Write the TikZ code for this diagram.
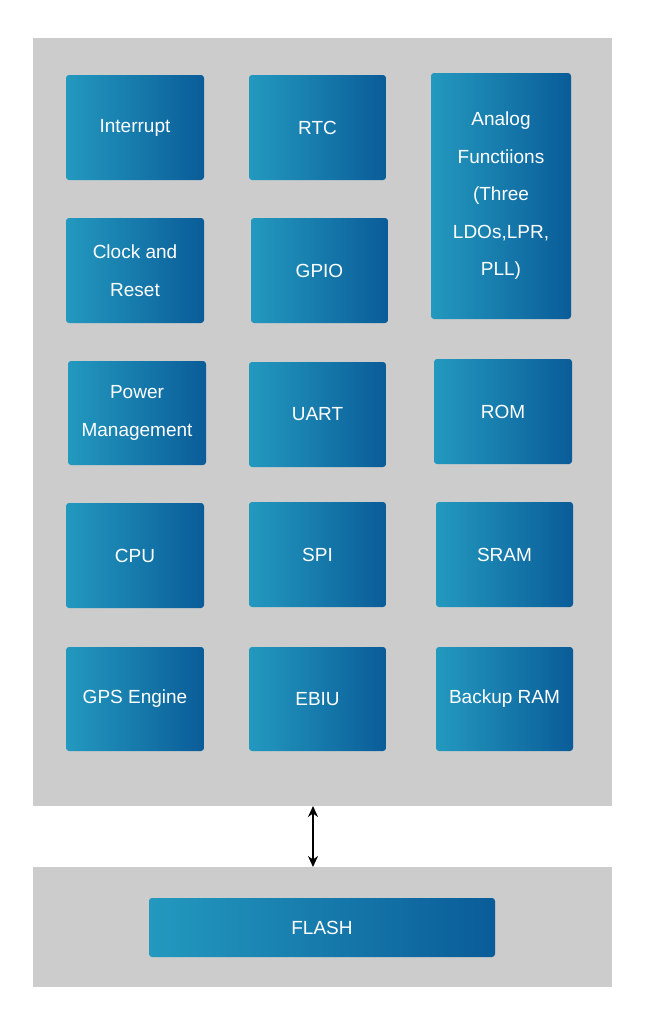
\documentclass[tikz,border=0pt]{standalone}
\usepackage{fontspec}
\setmainfont{Liberation Sans}
\usetikzlibrary{arrows.meta}
\begin{document}
\begin{tikzpicture}[x=1pt,y=-1pt,
  panel/.style={fill=gray!40!white,draw=none},
  blk/.style={rounded corners=3pt,left color=lc,right color=rc,draw=none},
  lbl/.style={text=white,align=center,font=\fontsize{19}{37.5}\selectfont},
]
\definecolor{lc}{HTML}{2399BF}
\definecolor{rc}{HTML}{0A5C98}
\useasboundingbox (0,0) rectangle (650,1034);
\fill[white] (0,0) rectangle (650,1034);
\fill[panel] (33,38) rectangle (612,806);
\fill[panel] (33,867) rectangle (612,987);
\newcommand{\bx}[6]{\path[blk] (#2,#3) rectangle (#4,#5); \node[lbl] (#1) at ({(#2+#4)/2},{(#3+#5)/2}) {#6};}
\bx{int}{66}{75}{204}{180}{Interrupt}
\bx{rtc}{249}{75}{386}{180}{RTC}
\bx{ana}{431}{73}{571}{319}{Analog\\Functiions\\(Three\\LDOs,LPR,\\PLL)}
\bx{clk}{66}{218}{204}{323}{Clock and\\Reset}
\bx{gpio}{251}{218}{388}{323}{GPIO}
\bx{pm}{68}{361}{206}{465}{Power\\Management}
\bx{uart}{249}{362}{386}{467}{UART}
\bx{rom}{434}{359}{572}{464}{ROM}
\bx{cpu}{66}{503}{204}{608}{CPU}
\bx{spi}{249}{502}{386}{607}{SPI}
\bx{sram}{436}{502}{573}{607}{SRAM}
\bx{gps}{66}{647}{204}{751}{GPS Engine}
\bx{ebiu}{249}{647}{386}{751}{EBIU}
\bx{bram}{436}{647}{573}{751}{Backup RAM}
\bx{flash}{149}{898}{495}{957}{FLASH}
\coordinate (top) at (313,806);
\coordinate (bot) at (313,867);
\draw[line width=2pt,<->,>={Stealth[length=11pt,width=10pt]}] (top) -- (bot);
\end{tikzpicture}
\end{document}
